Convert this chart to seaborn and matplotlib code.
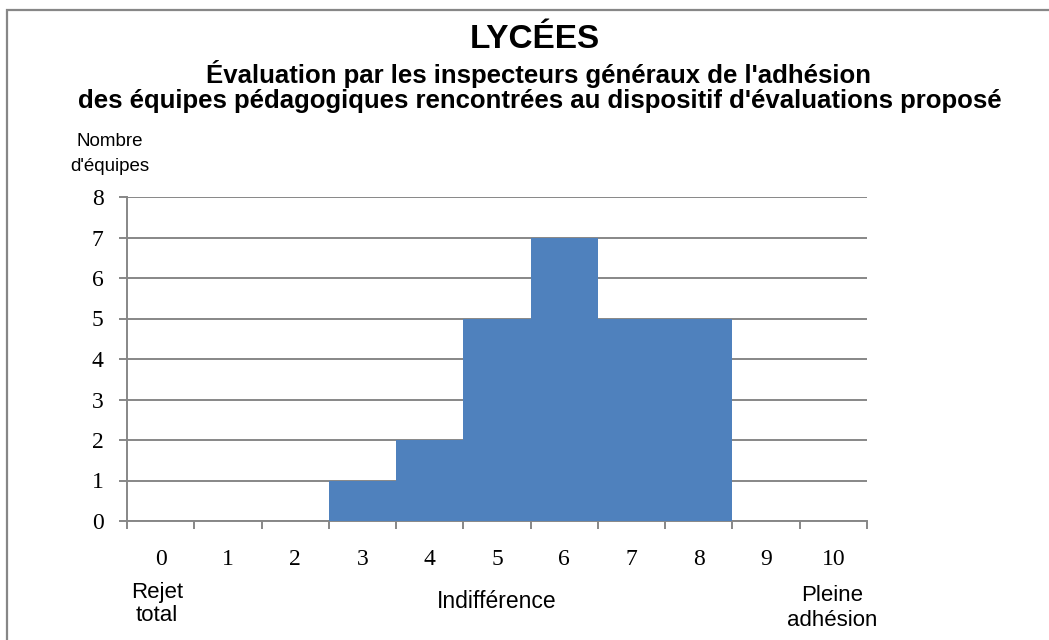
import numpy as np
import pandas as pd
import matplotlib
matplotlib.use("Agg")
import matplotlib.pyplot as plt
import seaborn as sns
from matplotlib.patches import Rectangle

# Données
notes = ["0", "1", "2", "3", "4", "5", "6", "7", "8", "9", "10"]
nb_equipes = [0, 0, 0, 1, 2, 5, 7, 5, 5, 0, 0]

titre = "LYCÉES"
sous_titre_1 = "Évaluation par les inspecteurs généraux de l'adhésion"
sous_titre_2 = "des équipes pédagogiques rencontrées au dispositif d'évaluations proposé"
label_y = "Nombre\nd'équipes"
repere_gauche = "Rejet\ntotal"
repere_milieu = "Indifférence"
repere_droite = "Pleine\nadhésion"

BLEU = "#4F81BD"
GRIS = "#878787"
SANS = ["Liberation Sans", "DejaVu Sans"]
SERIF = ["Liberation Serif", "DejaVu Serif"]

df = pd.DataFrame({"note": notes, "n": nb_equipes})

sns.set_theme(style="white")
plt.rcParams["font.family"] = SANS
plt.rcParams["text.color"] = "black"
plt.rcParams["xtick.color"] = "black"
plt.rcParams["ytick.color"] = "black"

fig = plt.figure(figsize=(10.49, 6.4), dpi=100)
ax = fig.add_axes([127 / 1049, 119 / 640, 740 / 1049, 324 / 640])

sns.barplot(data=df, x="note", y="n", color=BLEU, width=1.0, linewidth=0,
            saturation=1, ax=ax, zorder=3)

ax.set_xlim(-0.5, 10.5)
ax.set_ylim(0, 8)
ax.set_yticks(range(0, 9))
ax.yaxis.grid(True, color=GRIS, linewidth=1.4, zorder=0)
ax.set_axisbelow(True)

# ticks entre les catégories, étiquettes au centre
ax.set_xticks(np.arange(-0.5, 11, 1.0))
ax.set_xticklabels([])
ax.set_xticks(range(len(notes)), minor=True)
ax.set_xticklabels(notes, minor=True, family=SERIF, fontsize=17)
ax.tick_params(axis="x", which="major", direction="out", length=6, width=1.4,
               color=GRIS, bottom=True)
ax.tick_params(axis="x", which="minor", length=0, pad=20, bottom=True)
ax.tick_params(axis="y", direction="out", length=6, width=1.4, color=GRIS,
               left=True, pad=11)
for lab in ax.get_yticklabels():
    lab.set_fontfamily(SERIF)
    lab.set_fontsize(17)

for side in ["top", "right"]:
    ax.spines[side].set_visible(False)
for side in ["left", "bottom"]:
    ax.spines[side].set_color(GRIS)
    ax.spines[side].set_linewidth(1.4)
ax.set_xlabel("")
ax.set_ylabel("")

# textes
fig.text(535 / 1049, 1 - 40 / 640, titre, ha="center", va="center",
         fontsize=24, fontweight="bold")
fig.text(538 / 1049, 1 - 74 / 640, sous_titre_1, ha="center", va="center",
         fontsize=18.5, fontweight="bold")
fig.text(540 / 1049, 1 - 101 / 640, sous_titre_2, ha="center", va="center",
         fontsize=18.5, fontweight="bold")
fig.text(110 / 1049, 1 - 154 / 640, label_y, ha="center", va="center",
         fontsize=13.5, linespacing=1.55)
fig.text(157 / 1049, 1 - 604 / 640, repere_gauche, ha="center", va="center",
         fontsize=16, linespacing=1.1)
fig.text(497 / 1049, 1 - 602 / 640, repere_milieu, ha="center", va="center",
         fontsize=16.5)
fig.text(832 / 1049, 1 - 608 / 640, repere_droite, ha="center", va="center",
         fontsize=16, linespacing=1.2)

# cadre du graphique (coupé à droite et en bas)
fig.patches.append(Rectangle((7 / 1049, -0.1), 1.2, 1 - 10 / 640 + 0.1,
                             transform=fig.transFigure, fill=False,
                             edgecolor=GRIS, linewidth=1.6))

fig.savefig("out.png", dpi=100)
